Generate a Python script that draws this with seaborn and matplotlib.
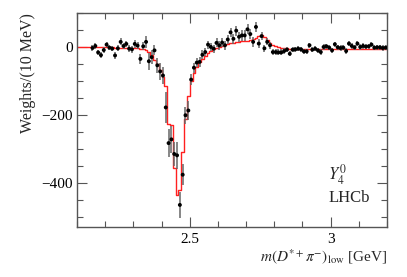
import numpy as np
import pandas as pd
import matplotlib
matplotlib.use("Agg")
import matplotlib.pyplot as plt
import seaborn as sns
from matplotlib.ticker import MultipleLocator, FixedLocator

# ---- data (bins of 10 MeV) ----
data_start = 2.155          # first bin centre [GeV]
bin_width = 0.01
weights = [-3, 3, -16, -24, -9, 7, -2, -5, -25, -4,
           15, 3, 9, -5, -7, 9, 4, -35, 2, 15,
           -42, -30, -10, -54, -72, -84, -178, -283, -272, -315,
           -319, -465, -376, -201, -187, -96, -61, -46, -44, -23,
           -15, 7, 0, -5, 12, 5, 13, 5, 22, 43,
           24, 48, 30, 34, 34, 52, 38, 15, 59, 10,
           32, -4, 15, 5, -15, -15, -16, -16, -12, -8,
           -20, -8, -7, -5, -7, -13, -13, 5, -8, -5,
           -10, -15, 0, 2, -2, -10, 8, -1, -3, -2,
           -12, 10, 3, -1, 10, 0, 3, 1, 2, 7,
           -2, -1, -1, -3, -2]
errors = [8, 8, 8, 8, 8, 8, 8, 8, 9, 9,
          10, 10, 10, 10, 10, 11, 11, 15, 12, 18,
          25, 20, 15, 22, 25, 25, 45, 42, 40, 35,
          40, 38, 30, 25, 27, 15, 15, 13, 15, 13,
          12, 12, 12, 12, 13, 13, 13, 13, 14, 14,
          14, 15, 15, 15, 15, 15, 15, 15, 15, 13,
          12, 11, 10, 10, 9, 9, 9, 9, 9, 8,
          8, 8, 8, 8, 8, 8, 8, 8, 8, 8,
          8, 8, 8, 8, 8, 8, 8, 8, 8, 8,
          8, 8, 8, 8, 8, 8, 8, 8, 8, 8,
          8, 8, 8, 8, 8]

model_start = 2.10          # first model bin edge [GeV]
model = [0, 0, 0, 0, 0, 0, 0, -1, -1, -1,
         -1, -1, -1, -2, -2, -2, -2, -3, -3, -3,
         -4, -4, -5, -6, -9, -15, -25, -37, -50, -68,
         -88, -116, -228, -230, -355, -437, -420, -308, -212, -143,
         -100, -76, -58, -45, -35, -26, -18, -12, -7, -3,
         0, 3, 6, 9, 11, 13, 15, 16, 17, 18,
         19, 21, 23, 27, 32, 35, 29, 20, 12, 6,
         2, -1, -3, -4, -4, -5, -5, -5, -5, -5,
         -5, -5, -5, -5, -5, -5, -5, -5, -5, -5,
         -5, -5, -5, -5, -5, -5, -5, -5, -5, -5,
         -5, -5, -5, -5, -5, -5, -5, -5, -5, -5]

x_ticks_major = [2.5, 3.0]
x_ticklabels = ["2.5", "3"]
y_ticks_major = [-400, -200, 0]
y_ticklabels = ["\u2212400", "\u2212200", "0"]

# ---- build frames ----
xc = np.round(data_start + bin_width * np.arange(len(weights)), 4)
df = pd.DataFrame({"m": xc, "w": weights, "err": errors})
edges = np.round(model_start + bin_width * np.arange(len(model) + 1), 4)
dm = pd.DataFrame({"m": edges, "w": list(model) + [model[-1]]})

# ---- style ----
sns.set_theme(style="ticks")
plt.rcParams["font.family"] = ["Liberation Serif", "DejaVu Serif"]
plt.rcParams["mathtext.fontset"] = "stix"

fig = plt.figure(figsize=(4.07, 2.77), dpi=100)
ax = fig.add_axes([77 / 407, 1 - 227 / 277, 310 / 407, 214 / 277])

sns.lineplot(data=dm, x="m", y="w", drawstyle="steps-post", color="#ff2020",
             linewidth=1.0, ax=ax, zorder=2, legend=False)
ax.errorbar(df["m"], df["w"], yerr=df["err"], fmt="none", ecolor="#666666",
            elinewidth=1.1, capsize=0, zorder=3)
sns.scatterplot(data=df, x="m", y="w", color="black", s=8, edgecolor="none",
                ax=ax, zorder=4, legend=False)

ax.set_xlim(2.10, 3.20)
ax.set_ylim(-530, 100)

frame_col = "#555555"
for sp in ax.spines.values():
    sp.set_visible(True)
    sp.set_color(frame_col)
    sp.set_linewidth(1.0)

ax.xaxis.set_major_locator(FixedLocator(x_ticks_major))
ax.set_xticklabels(x_ticklabels)
ax.xaxis.set_minor_locator(MultipleLocator(0.1))
ax.yaxis.set_major_locator(FixedLocator(y_ticks_major))
ax.set_yticklabels(y_ticklabels)
ax.yaxis.set_minor_locator(MultipleLocator(50))
ax.tick_params(which="both", direction="in", top=True, right=True,
               color=frame_col, labelsize=11, labelcolor="black")
ax.tick_params(which="major", length=7, width=0.8)
ax.tick_params(which="minor", length=4, width=0.8)
ax.tick_params(axis="x", pad=4)
ax.tick_params(axis="y", pad=3)

ax.set_ylabel("Weights/(10 MeV)", fontsize=11.5, loc="top", labelpad=4)
ax.set_xlabel(r"$m(D^{*+}\pi^{-})_{\mathrm{low}}$ [GeV]", fontsize=11,
              loc="right", labelpad=1)

ax.text(0.81, 0.185, r"$Y_{\mathit{4}}^{\mathit{0}}$", transform=ax.transAxes,
        fontsize=12, ha="left", va="bottom")
ax.text(0.81, 0.10, "LHCb", transform=ax.transAxes, fontsize=12,
        ha="left", va="bottom")

fig.savefig("out.png", dpi=100)
